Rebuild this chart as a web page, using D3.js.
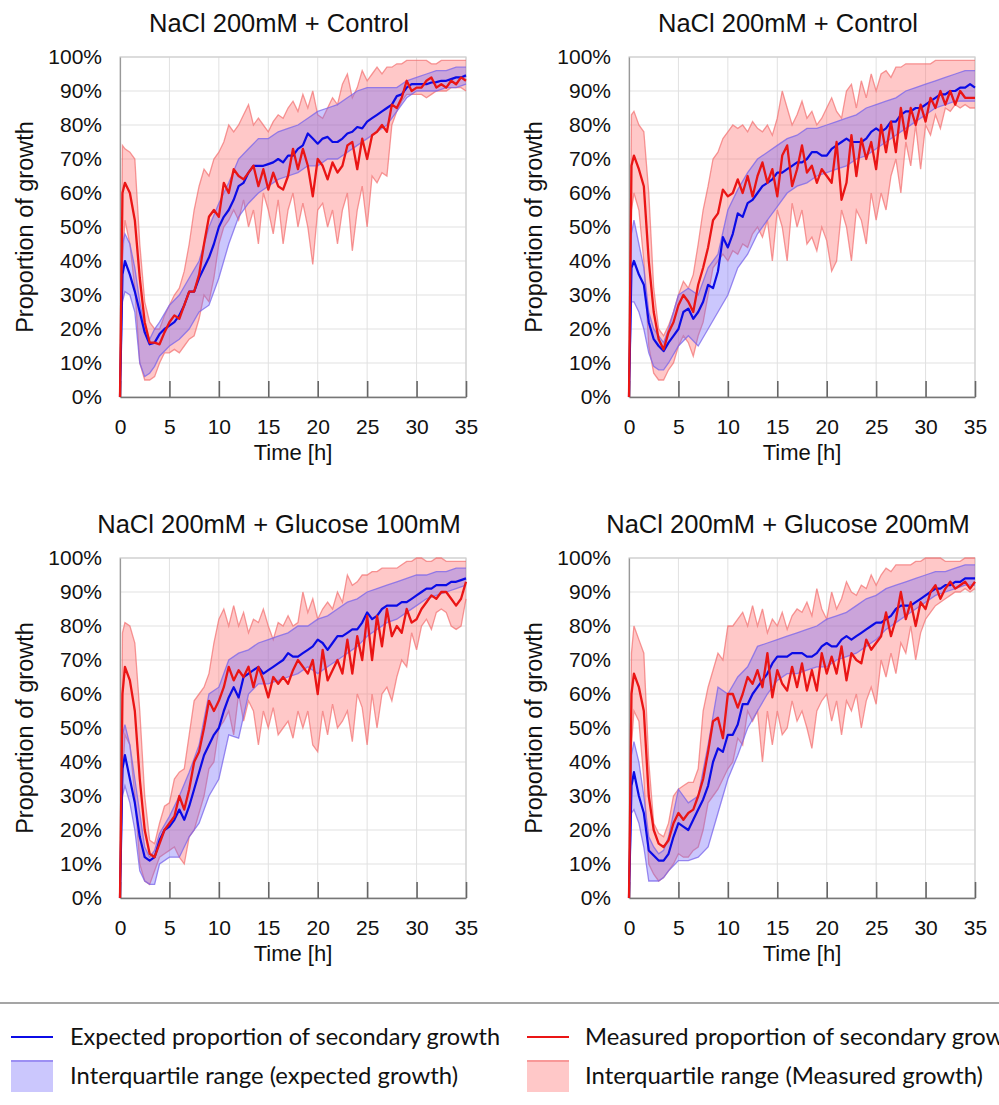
<!DOCTYPE html>
<html>
<head>
<meta charset="utf-8">
<script src="https://cdn.jsdelivr.net/npm/d3@7"></script>
<style>
  body { margin: 0; background: #fff; }
  svg { display: block; }
</style>
</head>
<body>
<div id="chart"></div>
<script>
// time points (hours)
const hoursFine = [0, 0.25, 0.5, 1, 1.5, 2, 2.5, 3, 3.5, 4, 4.5, 5, 5.5, 6, 6.5, 7, 7.5, 8, 8.5, 9, 9.5,
  10, 10.5, 11, 11.5, 12, 12.5, 13, 13.5, 14, 14.5, 15, 15.5, 16, 16.5, 17, 17.5, 18, 18.5, 19, 19.5,
  20, 20.5, 21, 21.5, 22, 22.5, 23, 23.5, 24, 24.5, 25, 25.5, 26, 26.5, 27, 27.5, 28, 28.5, 29, 29.5,
  30, 30.5, 31, 31.5, 32, 32.5, 33, 33.5, 34, 34.5, 35];
const hoursCoarse = [0, 0.25, 0.5, 1, 1.5, 2, 2.5, 3, 3.5, 4, 5, 6, 7, 8, 9, 10, 11, 12, 13, 14, 15,
  16, 17, 18, 19, 20, 21, 22, 23, 24, 25, 26, 27, 28, 29, 30, 31, 32, 33, 34, 35];

const panelTitles = ["NaCl 200mM + Control", "NaCl 200mM + Control",
  "NaCl 200mM + Glucose 100mM", "NaCl 200mM + Glucose 200mM"];
const xTicks = [0, 5, 10, 15, 20, 25, 30, 35];
const yTicks = [0, 10, 20, 30, 40, 50, 60, 70, 80, 90, 100];
const legendLabels = ["Expected proportion of secondary growth", "Measured proportion of secondary growth",
  "Interquartile range (expected growth)", "Interquartile range (Measured growth)"];

// expected proportion (blue line), on hoursFine, percent
const expected1 = [0, 36, 40, 36, 31, 25, 19, 15.5, 16, 18.5, 20, 21, 22, 24, 27, 31, 31, 35, 38, 41, 45, 50, 53,
  55, 58, 62, 63, 66, 68, 68, 68, 68.5, 69, 70, 69, 71, 71, 73, 74, 77.5, 76, 74.5, 76,
  76.5, 75, 75, 76, 77.5, 78, 79.4, 79, 81, 82, 83, 84, 85, 86, 88.5, 89, 91, 92, 92, 92,
  92, 92.5, 92.6, 93, 93, 93.5, 94, 94, 94.6];
const expected2 = [0, 38, 40, 36, 33, 22, 17, 15, 13.5, 16, 18, 20, 25, 26, 23, 25, 28, 33, 32, 37, 47, 44, 48,
  54, 53, 57, 58, 60, 62, 63, 64, 66, 66, 67, 68, 69, 69, 70, 72, 72, 71, 71, 73,
  74, 75, 76, 75, 75, 75, 76, 78, 79, 78, 79, 81, 81, 83, 84, 84, 85, 85, 86, 87,
  88, 89, 89, 90, 90, 91, 91, 92, 91];
const expected3 = [0, 38, 42, 35, 28, 18, 12, 11, 12, 17, 20, 21, 23, 26, 23, 27, 32, 37, 42, 45, 48, 50, 55,
  59, 62, 59, 65, 66, 67, 68, 66, 67, 68, 69, 70, 72, 71, 71, 72, 73, 74, 76, 75,
  73, 75, 77, 77, 78, 79, 79, 81, 84, 82, 83, 85, 86, 86, 86, 87, 87, 88, 89, 90,
  91, 91, 92, 92, 92, 93, 93, 93.5, 94];
const expected4 = [0, 33, 37, 30, 25, 14, 12.5, 11, 11, 13, 18, 22, 21, 20, 23, 26, 29, 33, 40, 44, 43, 48, 48,
  51, 57, 57, 60, 62, 64, 66, 69, 71, 71, 71, 72, 72, 72, 71, 71, 72, 74, 75, 74,
  74, 76, 77, 76, 77, 78, 79, 80, 81, 81, 82, 83, 85, 86, 86, 86, 87, 88, 89, 90,
  91, 91, 92, 92, 93, 93, 94, 94, 94];

// expected interquartile range, on hoursCoarse
const expectedLow1 = [0, 28, 31, 30, 25, 10, 6, 7, 9, 12, 15, 17, 20, 25, 27, 35, 45, 53, 57, 60, 62,
  64, 65, 66, 68, 68, 70, 70, 72, 74, 76, 78, 80, 84, 88, 90, 90, 90, 91, 91, 92];
const expectedHigh1 = [0, 45, 48, 45, 38, 28, 20, 17, 20, 22, 27, 30, 35, 40, 50, 57, 63, 70, 73, 76, 76,
  78, 79, 80, 82, 84, 85, 86, 88, 90, 91, 91, 91, 91, 93, 94, 95, 96, 96, 97, 97];
const expectedLow2 = [0, 28, 28, 25, 20, 13, 9, 8, 8, 10, 15, 18, 15, 20, 25, 30, 38, 42, 48, 52, 56,
  60, 62, 63, 65, 66, 67, 68, 70, 71, 73, 75, 77, 79, 81, 83, 85, 86, 87, 87, 87];
const expectedHigh2 = [0, 48, 52, 45, 38, 25, 20, 18, 16, 20, 30, 32, 30, 38, 42, 55, 61, 66, 70, 72, 74,
  76, 77, 79, 79, 80, 81, 82, 83, 85, 86, 87, 88, 90, 91, 92, 93, 94, 95, 96, 96];
const expectedLow3 = [0, 30, 33, 28, 20, 8, 5, 4, 4, 10, 12, 12, 18, 22, 30, 35, 48, 47, 60, 63, 63,
  64, 65, 66, 68, 66, 68, 70, 72, 74, 77, 79, 81, 82, 84, 86, 88, 89, 90, 91, 92];
const expectedHigh3 = [0, 48, 51, 45, 35, 25, 15, 12, 14, 19, 24, 30, 37, 45, 60, 62, 70, 72, 73, 75, 76,
  77, 78, 80, 80, 82, 83, 85, 87, 88, 90, 91, 92, 93, 94, 95, 95, 96, 96, 97, 97];
const expectedLow4 = [0, 25, 26, 22, 15, 5, 5, 5, 6, 8, 11, 11, 12, 15, 25, 35, 42, 50, 55, 60, 64,
  66, 66, 67, 68, 68, 70, 71, 72, 74, 76, 79, 81, 83, 85, 87, 89, 90, 91, 92, 92];
const expectedHigh4 = [0, 42, 46, 40, 30, 18, 15, 13, 14, 18, 32, 28, 30, 45, 62, 60, 65, 68, 74, 75, 76,
  77, 78, 79, 80, 82, 83, 84, 86, 88, 89, 91, 92, 93, 94, 95, 96, 96, 97, 98, 98];

// measured proportion (red line), on hoursFine
const measured1 = [0, 60, 63, 60, 52, 35, 22, 16, 16, 15.5, 19, 22, 24, 23, 27, 31, 31, 36, 45, 53, 55, 53,
  63, 60, 67, 65, 64, 66, 68, 62, 67, 61, 66, 62, 61, 65, 73, 67, 73, 68, 59, 70, 68, 64, 69, 66,
  68, 74, 75, 67, 76, 70, 77, 78, 80, 78, 86, 85, 88, 93, 90, 91, 91, 93, 94, 91, 92, 91, 93, 92, 94, 93];
const measured2 = [0, 68, 71, 67, 62, 40, 25, 17, 14, 19, 22, 27, 30, 28, 25, 33, 38, 44, 52, 54, 61, 59,
  60, 64, 60, 65, 59, 65, 69, 63, 67, 59, 71, 74, 62, 67, 74, 66, 68, 63, 67, 65, 63, 75, 58, 63,
  77, 65, 76, 70, 75, 67, 80, 72, 81, 72, 85, 76, 85, 80, 86, 81, 88, 85, 90, 86, 90, 86, 90, 88, 88, 88];
const measured3 = [0, 60, 68, 64, 55, 35, 20, 13, 12, 16, 20, 22, 24, 30, 26, 32, 40, 43, 50, 58, 55, 58,
  62, 68, 64, 67, 65, 68, 62, 68, 64, 59, 65, 63, 65, 63, 67, 70, 68, 66, 70, 60, 73, 64, 67, 70,
  66, 76, 66, 77, 70, 83, 70, 83, 74, 85, 77, 80, 78, 85, 81, 82, 85, 87, 89, 88, 90, 90, 88, 86, 88, 93];
const measured4 = [0, 60, 66, 62, 55, 30, 20, 16, 15, 17, 22, 25, 23, 25, 26, 30, 35, 43, 52, 53, 47, 60,
  60, 56, 60, 65, 63, 67, 62, 72, 59, 67, 63, 61, 68, 62, 69, 61, 67, 61, 72, 66, 71, 66, 74, 64,
  72, 70, 69, 76, 73, 75, 77, 84, 77, 82, 90, 82, 87, 80, 87, 85, 90, 92, 88, 91, 93, 91, 92, 93, 91, 93];

// measured interquartile range, on hoursFine
const measuredLow1 = [0, 40, 52, 45, 32, 10, 5, 5, 6, 10, 13, 13, 14, 13, 15, 17, 18, 23, 30, 28, 35, 45,
  50, 52, 55, 52, 58, 50, 55, 45, 60, 55, 48, 58, 45, 55, 60, 50, 57, 50, 39, 55, 57, 50, 55, 45,
  55, 60, 43, 55, 62, 50, 65, 63, 66, 65, 80, 84, 87, 89, 89, 89, 89, 88, 89, 90, 90, 90, 91, 91, 91, 90];
const measuredHigh1 = [0, 74, 73, 72, 70, 45, 28, 22, 20, 20, 24, 27, 30, 32, 37, 45, 55, 62, 67, 65, 70, 72,
  75, 80, 78, 80, 83, 86, 80, 82, 80, 78, 81, 83, 82, 85, 87, 84, 89, 85, 90, 83, 82, 85, 88, 86,
  92, 95, 88, 91, 96, 93, 95, 97, 95, 97, 97, 98, 98, 99, 99, 99, 99, 99, 98, 98, 99, 99, 99, 99, 99, 99];
const measuredLow2 = [0, 55, 60, 55, 40, 15, 7, 5, 5, 8, 10, 15, 18, 16, 12, 18, 22, 30, 38, 40, 42, 40,
  43, 42, 45, 44, 48, 50, 47, 52, 40, 55, 50, 40, 57, 50, 55, 45, 47, 43, 50, 46, 37, 40, 55, 50,
  40, 55, 52, 45, 60, 52, 60, 55, 65, 70, 60, 75, 68, 80, 67, 80, 77, 83, 79, 85, 84, 86, 85, 86, 85, 85];
const measuredHigh2 = [0, 83, 84, 80, 78, 60, 32, 20, 18, 21, 25, 30, 34, 32, 36, 45, 55, 62, 70, 72, 76, 78,
  80, 79, 80, 78, 81, 79, 78, 80, 77, 82, 90, 85, 80, 83, 87, 82, 84, 80, 82, 85, 88, 84, 82, 90,
  92, 85, 93, 88, 95, 90, 95, 96, 94, 97, 97, 98, 98, 98, 98, 98, 98, 99, 99, 99, 99, 99, 99, 99, 99, 99];
const measuredLow3 = [0, 35, 48, 45, 30, 10, 5, 4, 8, 12, 13, 14, 15, 12, 10, 18, 20, 25, 30, 38, 40, 50,
  52, 55, 48, 60, 52, 58, 55, 45, 55, 50, 56, 48, 50, 52, 47, 55, 50, 55, 45, 43, 55, 48, 57, 50,
  52, 55, 46, 60, 56, 45, 60, 50, 60, 62, 58, 65, 70, 68, 78, 73, 80, 82, 79, 84, 85, 84, 80, 79, 80, 88];
const measuredHigh3 = [0, 78, 81, 80, 75, 55, 30, 17, 16, 22, 27, 28, 35, 37, 38, 48, 58, 60, 62, 66, 75, 82,
  85, 80, 86, 80, 84, 78, 82, 81, 85, 80, 76, 81, 80, 83, 80, 81, 90, 84, 88, 82, 85, 87, 85, 90,
  87, 95, 92, 93, 95, 95, 96, 96, 97, 97, 97, 97, 98, 99, 99, 100, 100, 99, 99, 100, 100, 99, 99, 99, 99, 99];
const measuredLow4 = [0, 45, 55, 52, 35, 10, 7, 5, 6, 8, 10, 13, 12, 12, 14, 15, 20, 28, 30, 32, 35, 38,
  40, 47, 45, 55, 52, 55, 40, 55, 45, 55, 48, 50, 58, 52, 55, 50, 44, 55, 58, 60, 52, 58, 48, 58,
  55, 60, 50, 58, 62, 57, 70, 65, 72, 66, 75, 72, 80, 70, 78, 82, 84, 86, 87, 88, 89, 90, 90, 91, 90, 91];
const measuredHigh4 = [0, 72, 80, 76, 72, 40, 22, 19, 18, 22, 30, 32, 33, 34, 34, 38, 55, 62, 67, 72, 70, 80,
  80, 82, 84, 80, 86, 80, 85, 78, 82, 80, 84, 79, 83, 85, 84, 87, 83, 91, 85, 82, 90, 85, 88, 93,
  90, 89, 92, 91, 95, 92, 95, 97, 96, 98, 98, 98, 98, 99, 99, 100, 100, 100, 100, 99, 99, 99, 99, 100, 100, 100];

const panels = [
  { title: panelTitles[0], exp: expected1, expLo: expectedLow1, expHi: expectedHigh1, meas: measured1, measLo: measuredLow1, measHi: measuredHigh1 },
  { title: panelTitles[1], exp: expected2, expLo: expectedLow2, expHi: expectedHigh2, meas: measured2, measLo: measuredLow2, measHi: measuredHigh2 },
  { title: panelTitles[2], exp: expected3, expLo: expectedLow3, expHi: expectedHigh3, meas: measured3, measLo: measuredLow3, measHi: measuredHigh3 },
  { title: panelTitles[3], exp: expected4, expLo: expectedLow4, expHi: expectedHigh4, meas: measured4, measLo: measuredLow4, measHi: measuredHigh4 }
];

const W = 999, H = 1105;
const plotW = 346, plotH = 340;
const origins = [[120, 57], [629, 57], [120, 558], [629, 558]];
const chartFont = "'Liberation Sans', Arial, sans-serif";

const blueLine = "#0b0be6", redLine = "#ea1515";
const blueFill = "rgba(110,100,250,0.36)", redFill = "rgba(255,105,105,0.37)";
const blueEdge = "rgba(120,100,235,0.75)", redEdge = "rgba(242,110,110,0.7)";

const svg = d3.select("#chart").append("svg")
    .attr("width", W)
    .attr("height", H)
    .style("font-family", chartFont);

const x = d3.scaleLinear().domain([0, 35]).range([0, plotW]);
const y = d3.scaleLinear().domain([0, 100]).range([plotH, 0]);

panels.forEach((p, i) => {
    const [ox, oy] = origins[i];
    const g = svg.append("g").attr("transform", `translate(${ox},${oy})`);

    // grid
    g.append("g").selectAll("line")
        .data(xTicks.slice(1))
        .enter().append("line")
        .attr("x1", d => x(d)).attr("x2", d => x(d))
        .attr("y1", 0).attr("y2", plotH)
        .attr("stroke", "#e1e1e1").attr("stroke-width", 1);
    g.append("g").selectAll("line")
        .data(yTicks.slice(1))
        .enter().append("line")
        .attr("x1", 0).attr("x2", plotW)
        .attr("y1", d => y(d)).attr("y2", d => y(d))
        .attr("stroke", "#e1e1e1").attr("stroke-width", 1);
    g.append("rect")
        .attr("width", plotW).attr("height", plotH)
        .attr("fill", "none").attr("stroke", "#cfcfcf").attr("stroke-width", 1.2);

    const measBand = hoursFine.map((t, k) => ({ t, lo: p.measLo[k], hi: p.measHi[k] }))
        .filter(d => d.lo != null && d.hi != null);
    const expBand = hoursCoarse.map((t, k) => ({ t, lo: p.expLo[k], hi: p.expHi[k] }))
        .filter(d => d.lo != null && d.hi != null);
    const expLine = hoursFine.map((t, k) => ({ t, v: p.exp[k] })).filter(d => d.v != null);
    const measLine = hoursFine.map((t, k) => ({ t, v: p.meas[k] })).filter(d => d.v != null);

    const area = d3.area().x(d => x(d.t)).y0(d => y(d.lo)).y1(d => y(d.hi));
    const lineLo = d3.line().x(d => x(d.t)).y(d => y(d.lo));
    const lineHi = d3.line().x(d => x(d.t)).y(d => y(d.hi));
    const line = d3.line().x(d => x(d.t)).y(d => y(d.v));

    // measured IQR
    g.append("path").datum(measBand).attr("d", area).attr("fill", redFill);
    g.append("path").datum(measBand).attr("d", lineLo).attr("fill", "none").attr("stroke", redEdge).attr("stroke-width", 1.3);
    g.append("path").datum(measBand).attr("d", lineHi).attr("fill", "none").attr("stroke", redEdge).attr("stroke-width", 1.3);
    // expected IQR
    g.append("path").datum(expBand).attr("d", area).attr("fill", blueFill);
    g.append("path").datum(expBand).attr("d", lineLo).attr("fill", "none").attr("stroke", blueEdge).attr("stroke-width", 1.3);
    g.append("path").datum(expBand).attr("d", lineHi).attr("fill", "none").attr("stroke", blueEdge).attr("stroke-width", 1.3);

    // axes
    const xAxis = g.append("g")
        .attr("transform", `translate(0,${plotH})`)
        .call(d3.axisBottom(x).tickValues(xTicks).tickSizeInner(-16).tickSizeOuter(0).tickPadding(22));
    xAxis.select(".domain").attr("stroke", "#777").attr("stroke-width", 1.6);
    xAxis.selectAll(".tick line").attr("stroke", "#666").attr("stroke-width", 1.6);
    xAxis.selectAll(".tick text").attr("font-size", 21).attr("font-family", chartFont).attr("fill", "#111");

    const yAxis = g.append("g")
        .call(d3.axisLeft(y).tickValues(yTicks).tickSize(0).tickPadding(18).tickFormat(d => d + "%"));
    yAxis.select(".domain").attr("stroke", "#999").attr("stroke-width", 1.2);
    yAxis.selectAll(".tick text").attr("font-size", 21).attr("font-family", chartFont).attr("fill", "#111");

    // lines
    g.append("path").datum(expLine).attr("d", line)
        .attr("fill", "none").attr("stroke", blueLine).attr("stroke-width", 2.2).attr("stroke-linejoin", "round");
    g.append("path").datum(measLine).attr("d", line)
        .attr("fill", "none").attr("stroke", redLine).attr("stroke-width", 2.3).attr("stroke-linejoin", "round");

    // labels
    g.append("text")
        .attr("x", plotW / 2 - 14).attr("y", -25)
        .attr("text-anchor", "middle").attr("font-size", 25.5).attr("fill", "#111")
        .text(p.title);
    g.append("text")
        .attr("x", plotW / 2).attr("y", plotH + 55)
        .attr("dy", "0.35em")
        .attr("text-anchor", "middle").attr("font-size", 22).attr("fill", "#111")
        .text("Time [h]");
    g.append("text")
        .attr("transform", `translate(${-95},${plotH / 2}) rotate(-90)`)
        .attr("dy", "0.35em")
        .attr("text-anchor", "middle").attr("font-size", 23.5).attr("fill", "#111")
        .text("Proportion of growth");
});

// legend
svg.append("line")
    .attr("x1", 0).attr("x2", W).attr("y1", 1003).attr("y2", 1003)
    .attr("stroke", "#a5a5a5").attr("stroke-width", 2);

const legendFont = "Lato, 'Open Sans', sans-serif";
const legendCols = [11, 527];
const textCols = [70, 585];
const rowY = [1037, 1076];
const textWidths = [430, 441, 388, 398];

legendLabels.forEach((label, k) => {
    const col = k % 2, row = Math.floor(k / 2);
    const lx = legendCols[col], ly = rowY[row];
    if (row === 0) {
        svg.append("line")
            .attr("x1", lx).attr("x2", lx + 42).attr("y1", ly).attr("y2", ly)
            .attr("stroke", col === 0 ? blueLine : redLine).attr("stroke-width", 2);
    } else {
        svg.append("rect")
            .attr("x", lx).attr("y", ly - 16).attr("width", 42).attr("height", 32)
            .attr("fill", col === 0 ? blueFill : redFill);
        svg.append("line")
            .attr("x1", lx).attr("x2", lx + 42).attr("y1", ly - 15).attr("y2", ly - 15)
            .attr("stroke", col === 0 ? blueEdge : redEdge).attr("stroke-width", 1.5);
    }
    svg.append("text")
        .attr("x", textCols[col]).attr("y", ly + 8)
        .attr("font-family", legendFont).attr("font-size", 24).attr("fill", "#111")
        .attr("textLength", textWidths[k]).attr("lengthAdjust", "spacingAndGlyphs")
        .text(label);
});
</script>
</body>
</html>
